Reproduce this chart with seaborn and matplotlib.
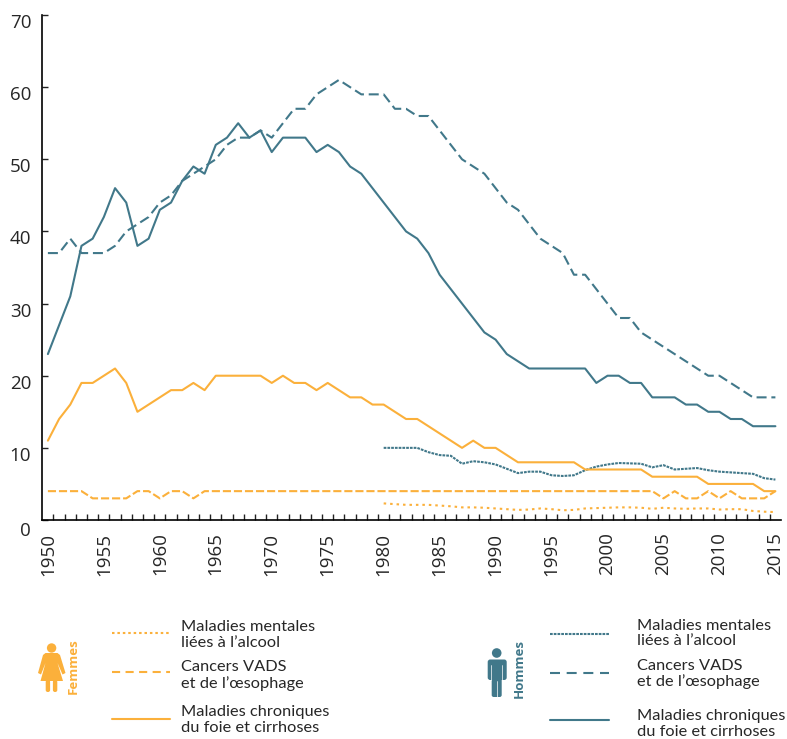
import seaborn as sns
import matplotlib.pyplot as plt
import matplotlib.transforms as mtrans
from matplotlib.patches import Circle, Polygon, FancyBboxPatch
import pandas as pd
import numpy as np

years_all = list(range(1950, 2016))
years_mental = list(range(1980, 2016))

men_chronic = [23, 27, 31, 38, 39, 42, 46, 44, 38, 39, 43, 44, 47, 49, 48, 52, 53, 55, 53, 54, 51, 53, 53, 53, 51, 52,
               51, 49, 48, 46, 44, 42, 40, 39, 37, 34, 32, 30, 28, 26, 25, 23, 22, 21, 21, 21, 21, 21, 21, 19,
               20, 20, 19, 19, 17, 17, 17, 16, 16, 15, 15, 14, 14, 13, 13, 13]
men_cancer = [37, 37, 39, 37, 37, 37, 38, 40, 41, 42, 44, 45, 47, 48, 49, 50, 52, 53, 53, 54, 53, 55, 57, 57, 59, 60,
              61, 60, 59, 59, 59, 57, 57, 56, 56, 54, 52, 50, 49, 48, 46, 44, 43, 41, 39, 38, 37, 34, 34, 32,
              30, 28, 28, 26, 25, 24, 23, 22, 21, 20, 20, 19, 18, 17, 17, 17]
men_mental = [10.0, 10.0, 10.0, 10.0, 9.4, 9.0, 8.9, 7.8, 8.15, 8.0, 7.7, 7.1, 6.5, 6.7, 6.7, 6.2, 6.1, 6.2, 6.9, 7.4,
              7.7, 7.9, 7.85, 7.8, 7.3, 7.6, 7.0, 7.1, 7.2, 6.9, 6.7, 6.6, 6.5, 6.4, 5.8, 5.6]

women_chronic = [11, 14, 16, 19, 19, 20, 21, 19, 15, 16, 17, 18, 18, 19, 18, 20, 20, 20, 20, 20, 19, 20, 19, 19, 18, 19,
                 18, 17, 17, 16, 16, 15, 14, 14, 13, 12, 11, 10, 11, 10, 10, 9, 8, 8, 8, 8, 8, 8, 7, 7,
                 7, 7, 7, 7, 6, 6, 6, 6, 6, 5, 5, 5, 5, 5, 4, 4]
women_cancer = [4, 4, 4, 4, 3, 3, 3, 3, 4, 4, 3, 4, 4, 3, 4, 4, 4, 4, 4, 4, 4, 4, 4, 4, 4, 4,
                4, 4, 4, 4, 4, 4, 4, 4, 4, 4, 4, 4, 4, 4, 4, 4, 4, 4, 4, 4, 4, 4, 4, 4,
                4, 4, 4, 4, 4, 3, 4, 3, 3, 4, 3, 4, 3, 3, 3, 4]
women_mental = [2.3, 2.2, 2.1, 2.1, 2.1, 2.0, 1.9, 1.75, 1.75, 1.7, 1.6, 1.5, 1.4, 1.45, 1.6, 1.5, 1.35, 1.4, 1.6, 1.65,
                1.7, 1.75, 1.75, 1.7, 1.55, 1.7, 1.6, 1.55, 1.6, 1.6, 1.45, 1.5, 1.5, 1.25, 1.15, 1.1]

ORANGE = "#fbb03b"
TEAL = "#41788a"
INK = "#262626"

sns.set_theme(style="white")
plt.rcParams["font.family"] = ["Open Sans", "DejaVu Sans"]

frames = []
for name, xs, vals in [
    ("m_chronic", years_all, men_chronic),
    ("m_cancer", years_all, men_cancer),
    ("m_mental", years_mental, men_mental),
    ("f_chronic", years_all, women_chronic),
    ("f_cancer", years_all, women_cancer),
    ("f_mental", years_mental, women_mental),
]:
    frames.append(pd.DataFrame({"annee": xs, "taux": vals, "serie": name}))
df = pd.concat(frames)

palette = {"m_chronic": TEAL, "m_cancer": TEAL, "m_mental": TEAL,
           "f_chronic": ORANGE, "f_cancer": ORANGE, "f_mental": ORANGE}
dash_styles = {"m_chronic": "", "m_cancer": (4.8, 2.3), "m_mental": (1.3, 0.5),
               "f_chronic": "", "f_cancer": (3.9, 1.4), "f_mental": (1.2, 1.9)}

W, H = 787, 739
fig = plt.figure(figsize=(W / 100, H / 100), dpi=100)
ax = fig.add_axes([42.3 / W, 1 - 520 / H, (781 - 42.3) / W, (520 - 15) / H])

sns.lineplot(data=df, x="annee", y="taux", hue="serie", style="serie", palette=palette,
             dashes=dash_styles, linewidth=1.5, errorbar=None, legend=False, ax=ax)

ax.set_xlim(1949.5, 2015.5)
ax.set_ylim(0, 70)
ax.set_xlabel("")
ax.set_ylabel("")
ax.spines["top"].set_visible(False)
ax.spines["right"].set_visible(False)
for s in ["left", "bottom"]:
    ax.spines[s].set_color("black")
    ax.spines[s].set_linewidth(1.2)

ax.set_xticks(np.arange(1950, 2016, 5))
ax.set_xticks(np.arange(1950.5, 2015.5, 1), minor=True)
ax.set_yticks(np.arange(0, 71, 10))
ax.tick_params(axis="x", which="major", length=0, pad=9, labelsize=13.5, labelcolor=INK, labelrotation=90)
ax.tick_params(axis="x", which="minor", direction="in", length=4.5, width=1, color="#222222", bottom=True)
ax.tick_params(axis="y", which="major", direction="in", length=4, width=1, color="#222222", left=True,
               pad=8, labelsize=13.5, labelcolor=INK)
# les chiffres de l'axe y sont un peu sous leur graduation
for lab, val in zip(ax.get_yticklabels(), ax.get_yticks()):
    shift = 9 if val == 0 else 6
    offset = mtrans.ScaledTranslation(0, -shift / 100, fig.dpi_scale_trans)
    lab.set_transform(lab.get_transform() + offset)

# legende dessinee a la main, en pixels
leg = fig.add_axes([0, 0, 1, 1], facecolor="none")
leg.set_xlim(0, W)
leg.set_ylim(H, 0)
leg.axis("off")

rows = [
    (112, 170, 181, ORANGE, [(633, (1.2, 1.4), 627, 643, "Maladies mentales", "liées à l’alcool"),
                             (672, (3.9, 2.6), 667, 684, "Cancers VADS", "et de l’œsophage"),
                             (719, "", 712, 728, "Maladies chroniques", "du foie et cirrhoses")]),
    (550, 609, 637, TEAL, [(634, (1.3, 0.5), 626, 641, "Maladies mentales", "liées à l’alcool"),
                           (672.5, (4.8, 3.2), 666, 682, "Cancers VADS", "et de l’œsophage"),
                           (720, "", 716, 732, "Maladies chroniques", "du foie et cirrhoses")]),
]
for x0, x1, xt, col, items in rows:
    for yl, dash, y1, y2, t1, t2 in items:
        ln, = leg.plot([x0, x1], [yl, yl], color=col, linewidth=1.5)
        if dash:
            ln.set_dashes(dash)
        leg.text(xt, y1, t1, fontsize=11.8, color=INK, va="center", ha="left", family=["Lato", "DejaVu Sans"])
        leg.text(xt, y2, t2, fontsize=11.8, color=INK, va="center", ha="left", family=["Lato", "DejaVu Sans"])

leg.text(73.5, 666, "Femmes", rotation=90, fontsize=9.5, fontweight="bold", color=ORANGE, ha="center", va="center")
leg.text(519, 669, "Hommes", rotation=90, fontsize=9.5, fontweight="bold", color=TEAL, ha="center", va="center")

# silhouette femme
leg.add_patch(Circle((51.6, 648), 4.7, color=ORANGE, lw=0))
leg.add_patch(Polygon([(45.5, 653), (57.5, 653), (60, 655), (65.5, 673), (62.5, 674.5), (57.5, 663), (63, 681),
                       (40.5, 681), (45.5, 663), (41, 674.5), (38, 673), (43, 655)],
                      closed=True, color=ORANGE, lw=0))
leg.add_patch(FancyBboxPatch((45.7, 680), 4.4, 12, boxstyle="round,pad=0,rounding_size=2", color=ORANGE, lw=0))
leg.add_patch(FancyBboxPatch((52.9, 680), 4.4, 12, boxstyle="round,pad=0,rounding_size=2", color=ORANGE, lw=0))

# silhouette homme
leg.add_patch(Circle((496.7, 653), 4.8, color=TEAL, lw=0))
leg.add_patch(FancyBboxPatch((487.7, 659.5), 19, 20.5, boxstyle="round,pad=0,rounding_size=2.5", color=TEAL, lw=0))
leg.add_patch(FancyBboxPatch((491.7, 665), 10, 32, boxstyle="round,pad=0,rounding_size=2", color=TEAL, lw=0))
leg.plot([491.2, 491.2], [665, 680], color="white", lw=0.5)
leg.plot([502.2, 502.2], [665, 680], color="white", lw=0.5)
leg.plot([496.7, 496.7], [681, 697], color="white", lw=0.5)

fig.savefig("out.png", dpi=100)
